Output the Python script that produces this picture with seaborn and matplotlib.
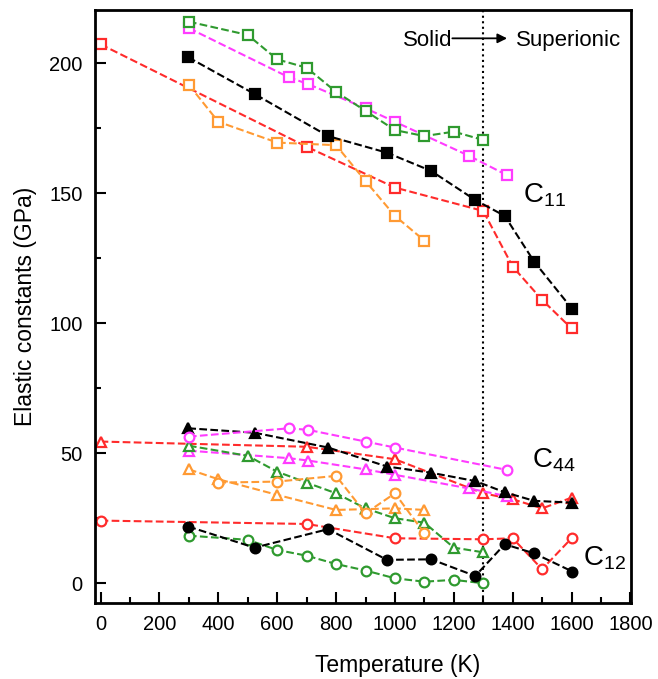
# elastic constants vs temperature (C11 / C44 / C12)

import numpy as np
import pandas as pd
import matplotlib
matplotlib.use('Agg')
import matplotlib.pyplot as plt
import seaborn as sns

sns.set_style('ticks', {'axes.edgecolor': 'black', 'text.color': 'black',
                        'axes.labelcolor': 'black', 'xtick.color': 'black',
                        'ytick.color': 'black'})
plt.rcParams['font.family'] = ['Liberation Sans', 'DejaVu Sans']
plt.rcParams['mathtext.default'] = 'regular'

# ── temperatures per data set ──
T_BLACK   = [298, 523, 773, 973, 1123, 1273, 1373, 1473, 1603]
T_RED     = [0, 700, 1000, 1300, 1400, 1500, 1600]
T_GREEN   = [300, 500, 600, 700, 800, 900, 1000, 1100, 1200, 1300]
T_MAGENTA = [300, 640, 705, 900, 1000, 1250, 1380]
T_MAG_C12 = [300, 640, 705, 900, 1000, 1380]
T_ORANGE  = [300, 400, 600, 800, 900, 1000, 1100]
T_ORA_C12 = [400, 600, 800, 900, 1000, 1100]

# ── C11 (squares) ──
C11_BLACK   = [202.3, 188.2, 172.0, 165.6, 158.6, 147.4, 141.3, 123.7, 105.4]
C11_RED     = [207.3, 167.9, 152.2, 143.2, 121.8, 109.0, 98.0]
C11_GREEN   = [216.0, 210.9, 201.5, 198.3, 189.0, 181.7, 174.3, 172.0, 173.7, 170.5]
C11_MAGENTA = [213.5, 194.6, 192.0, 182.7, 177.5, 164.5, 157.0]
C11_ORANGE  = [191.7, 177.5, 169.5, 168.5, 154.7, 141.3, 131.8]

# ── C44 (triangles) ──
C44_BLACK   = [59.6, 57.9, 52.2, 44.9, 42.5, 39.3, 35.0, 31.7, 31.0]
C44_RED     = [54.5, 52.5, 47.7, 34.6, 32.3, 28.8, 32.9]
C44_GREEN   = [52.9, 49.0, 42.9, 38.7, 34.6, 28.8, 25.0, 23.3, 13.7, 11.9]
C44_MAGENTA = [51.0, 48.1, 47.2, 43.8, 41.7, 36.5, 33.5]
C44_ORANGE  = [43.8, 40.0, 34.0, 28.2, 28.5, 28.8, 28.2]

# ── C12 (circles) ──
C12_BLACK   = [21.8, 13.7, 20.8, 9.0, 9.2, 2.8, 15.0, 11.5, 4.5]
C12_RED     = [24.1, 22.8, 17.3, 16.9, 17.3, 5.4, 17.3]
C12_GREEN   = [18.3, 16.7, 12.8, 10.6, 7.4, 4.9, 1.9, 0.6, 1.3, 0.0]
C12_MAGENTA = [56.4, 59.6, 59.0, 54.5, 52.2, 43.6]
C12_ORANGE  = [38.7, 39.1, 41.3, 26.9, 34.6, 19.2]

BLACK   = '#000000'
RED     = '#ff2b2b'
GREEN   = '#2f9a2f'
MAGENTA = '#ff3cff'
ORANGE  = '#ff9a33'

T_TRANSITION = 1300

series = [
    # (T, C, colour, marker, filled)
    (T_RED,     C11_RED,     RED,     's', False),
    (T_ORANGE,  C11_ORANGE,  ORANGE,  's', False),
    (T_MAGENTA, C11_MAGENTA, MAGENTA, 's', False),
    (T_GREEN,   C11_GREEN,   GREEN,   's', False),
    (T_BLACK,   C11_BLACK,   BLACK,   's', True),
    (T_RED,     C44_RED,     RED,     '^', False),
    (T_ORANGE,  C44_ORANGE,  ORANGE,  '^', False),
    (T_MAGENTA, C44_MAGENTA, MAGENTA, '^', False),
    (T_GREEN,   C44_GREEN,   GREEN,   '^', False),
    (T_BLACK,   C44_BLACK,   BLACK,   '^', True),
    (T_RED,     C12_RED,     RED,     'o', False),
    (T_ORA_C12, C12_ORANGE,  ORANGE,  'o', False),
    (T_MAG_C12, C12_MAGENTA, MAGENTA, 'o', False),
    (T_GREEN,   C12_GREEN,   GREEN,   'o', False),
    (T_BLACK,   C12_BLACK,   BLACK,   'o', True),
]

fig = plt.figure(figsize=(6.58, 6.79), dpi=100)
ax = fig.add_axes([95/658, 76/679, 536/658, 593/679])

for T, C, col, mk, filled in series:
    df = pd.DataFrame({'T': T, 'C': C})
    sns.lineplot(data=df, x='T', y='C', ax=ax, color=col, sort=False,
                 estimator=None, linestyle='--', lw=1.5,
                 marker=mk, markersize=7.5 if mk == '^' else 7,
                 markerfacecolor=col if filled else 'white',
                 markeredgecolor=col, markeredgewidth=1.6)

# solid -> superionic boundary
ax.axvline(T_TRANSITION, color='k', linestyle=':', lw=1.5, zorder=1)
ax.annotate('', xy=(1381, 209.6), xytext=(1195, 209.6),
            arrowprops=dict(arrowstyle='-|>', color='k', lw=1.3,
                            mutation_scale=14, shrinkA=0, shrinkB=0))
ax.text(1195, 206.5, 'Solid', ha='right', va='baseline', fontsize=16)
ax.text(1411, 206.5, 'Superionic', ha='left', va='baseline', fontsize=16)

ax.text(1435, 146.3, 'C$_{11}$', fontsize=20, ha='left', va='baseline')
ax.text(1466, 44.7, 'C$_{44}$', fontsize=20, ha='left', va='baseline')
ax.text(1639, 7.0, 'C$_{12}$', fontsize=20, ha='left', va='baseline')

ax.set_xlim(-19, 1802)
ax.set_ylim(-7.6, 220.5)
ax.set_xticks(np.arange(0, 1801, 200))
ax.set_xticks(np.arange(100, 1800, 200), minor=True)
ax.set_yticks(np.arange(0, 201, 50))
ax.set_yticks(np.arange(25, 220, 50), minor=True)
ax.tick_params(which='both', direction='in', width=1.5, labelsize=14.5,
               top=False, right=False, color='black', labelcolor='black')
ax.tick_params(which='major', length=8, pad=9)
ax.tick_params(which='minor', length=4)
for s in ax.spines.values():
    s.set_linewidth(2)
    s.set_color('black')
    s.set_visible(True)

ax.set_xlabel('Temperature (K)', fontsize=16.5, color='black')
ax.set_ylabel('Elastic constants (GPa)', fontsize=16.5, color='black')
ax.xaxis.set_label_coords(0.564, -0.086)
ax.yaxis.set_label_coords(-0.108, 0.5)

plt.savefig('out.png', dpi=100)
